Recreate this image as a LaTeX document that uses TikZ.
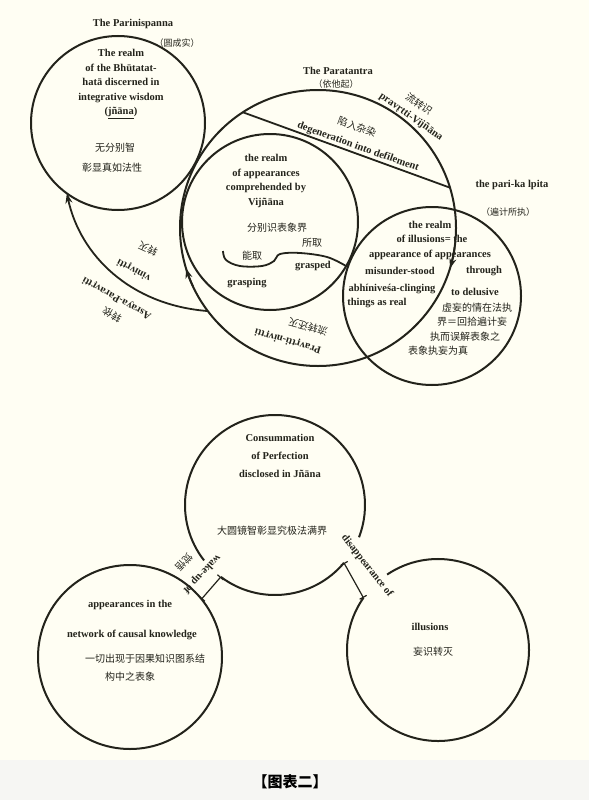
\documentclass[tikz,border=0pt]{standalone}
\usepackage{fontspec}
\setmainfont{Liberation Serif}
\newfontfamily\cjk{Noto Sans CJK SC}
\usetikzlibrary{arrows.meta,calc}
\definecolor{ink}{HTML}{23231B}
\definecolor{paper}{HTML}{FFFEF3}
\definecolor{capbg}{HTML}{F6F6F3}

\begin{document}
\begin{tikzpicture}[x=1pt,y=-1pt,
    realm/.style={circle, draw=ink, line width=2pt, inner sep=0pt, outer sep=0pt},
    hollow/.style={circle, inner sep=0pt, outer sep=0pt},
    en/.style={font=\fontsize{10.5}{14.5}\selectfont\bfseries, text=ink, inner sep=1pt, align=center},
    zh/.style={font=\cjk\fontsize{10}{13}\selectfont, text=ink, inner sep=1pt},
    flow/.style={draw=ink, line width=1.8pt, -{Stealth[length=10pt,width=7pt]}},
    bracket/.style={draw=ink, line width=1.2pt, {Bar[width=8pt]}-{Bar[width=8pt]}}
]
% Paper
\fill[paper] (0,0) rectangle (589,760);
\fill[capbg] (0,760) rectangle (589,800);
\useasboundingbox (0,0) rectangle (589,800);

% Upper circles
\node[realm, minimum size=174pt] (parin) at (118,123) {};
\node[realm, minimum size=276pt] (paratantra) at (318,228) {};
\node[realm, minimum size=176pt] (appear) at (270,222) {};
\node[realm, minimum size=178pt] (illusion) at (432,296) {};

% Chord and flows
\draw[ink, line width=1.8pt] (paratantra.123) -- (paratantra.17);
\draw[flow] (paratantra.center) ++(155:138) arc[start angle=155, end angle=163, radius=138];
\draw[flow] (paratantra.center) ++(8:138) arc[start angle=8, end angle=17, radius=138];
\draw[flow] (paratantra.217) .. controls (130,305) and (80,255) .. (parin.234);

% Grasping line
\draw[ink, line width=1.8pt] plot[smooth, tension=0.6] coordinates {(223,251) (226,260) (240,266) (262,266) (274,261) (280,254) (300,253) (327,257) (346,266)};

% Titles
\node[en] (t-parin) at (133,24) {The Parinispanna};
\node[zh, font=\cjk\fontsize{9}{11}\selectfont] (t-parin-zh) at (177,43) {（圆成实）};
\node[en] (t-para) at (338,71) {The Paratantra};
\node[zh, font=\cjk\fontsize{9}{11}\selectfont] (t-para-zh) at (336,84) {（依他起）};
\node[en] (t-pari) at (512,185) {the pari-ka lpita};
\node[zh, font=\cjk\fontsize{9}{11}\selectfont] (t-pari-zh) at (508,212) {（遍计所执）};

% Parinispanna
\node[en] (pa-text) at (121,84) {The realm\\of the Bhūtatat-\\hatā discerned in\\integrative wisdom\\(\underline{jñāna})};
\node[zh] (pa-zh1) at (115,148) {无分别智};
\node[zh] (pa-zh2) at (112,168) {彰显真如法性};

% Realm of appearances
\node[en] (vj-text) at (266,181) {the realm\\of appearances\\comprehended by\\Vijñāna};
\node[zh] (vj-zh) at (277,228) {分别识表象界};
\node[zh] (vj-grasped-zh) at (312,243) {所取};
\node[zh] (vj-grasping-zh) at (252,256) {能取};
\node[en] (vj-grasped) at (313,266) {grasped};
\node[en] (vj-grasping) at (247,283) {grasping};

% Realm of illusions
\node[en] (il-1) at (430,225) {the realm};
\node[en] (il-2) at (432,239) {of illusions= the};
\node[en] (il-3) at (430,255) {appearance of appearances};
\node[en] (il-4a) at (400,271) {misunder-stood};
\node[en] (il-4b) at (484,271) {through};
\node[en] (il-5a) at (392,289) {abhíniveśa-clinging};
\node[en] (il-5b) at (475,292) {to delusive};
\node[en] (il-6) at (377,303) {things as real};
\node[zh] (il-zh1) at (477,308) {虚妄的情在法执};
\node[zh] (il-zh2) at (472,322) {界＝回拾遍计妄};
\node[zh] (il-zh3) at (465,337) {执而误解表象之};
\node[zh] (il-zh4) at (438,351) {表象执妄为真};

% Arc labels
\node[zh, rotate=-19.7] (deg-zh) at (357,127) {陷入杂染};
\node[en, rotate=-19.7] (deg) at (358,147) {degeneration into defilement};
\node[en, rotate=-35] (pv) at (411,117) {pravṛtti-Vijñāna};
\node[zh, rotate=-35] (pv-zh) at (419,104) {流转识};
\node[en, rotate=164] (pn) at (288,341) {Pravṛtti-nivṛtti};
\node[zh, rotate=165] (pn-zh) at (308,327) {流转还灭};
\node[en, rotate=151] (asr) at (117,298) {Asraya-Paravṛtti};
\node[zh, rotate=150] (asr-zh) at (112,315) {转依};
\node[en, rotate=152] (vin) at (134,270) {vinivṛtti};
\node[zh, rotate=155] (vin-zh) at (148,249) {转灭};

% Lower circles
\node[hollow, minimum size=180pt] (consum) at (275,505) {};
\node[realm, minimum size=184pt] (network) at (130,657) {};
\node[hollow, minimum size=182pt] (vanish) at (438,650) {};
\draw[ink, line width=2pt] (consum.center) ++(40:90) arc[start angle=40, end angle=127, radius=90];
\draw[ink, line width=2pt] (consum.center) ++(142:90) arc[start angle=142, end angle=381, radius=90];
\draw[ink, line width=2pt] (vanish.center) ++(236:91) arc[start angle=236, end angle=575, radius=91];

\draw[bracket] (network.39) -- (consum.233);
\draw[bracket] (consum.320) -- (vanish.145);

\node[en, font=\fontsize{10.5}{18}\selectfont\bfseries] (cs-text) at (280,456) {Consummation\\of Perfection\\disclosed in Jñāna};
\node[zh] (cs-zh) at (272,531) {大圆镜智彰显究极法满界};
\node[en] (nw-1) at (130,605) {appearances in the};
\node[en] (nw-2) at (132,635) {network of causal knowledge};
\node[zh] (nw-zh1) at (145,659) {一切出现于因果知识图系结};
\node[zh] (nw-zh2) at (130,677) {构中之表象};
\node[en] (vn-1) at (430,627) {illusions};
\node[zh] (vn-zh) at (433,652) {妄识转灭};

\node[en, rotate=227] (wake) at (202,574) {wake-up of};
\node[zh, rotate=227] (wake-zh) at (184,562) {觉悟};
\node[en, rotate=-51.5] (disap) at (367,566) {disappearance of};

% Caption
\node[font=\cjk\bfseries\fontsize{15}{18}\selectfont, text=black] (caption) at (290,782) {【图表二】};
\end{tikzpicture}
\end{document}
